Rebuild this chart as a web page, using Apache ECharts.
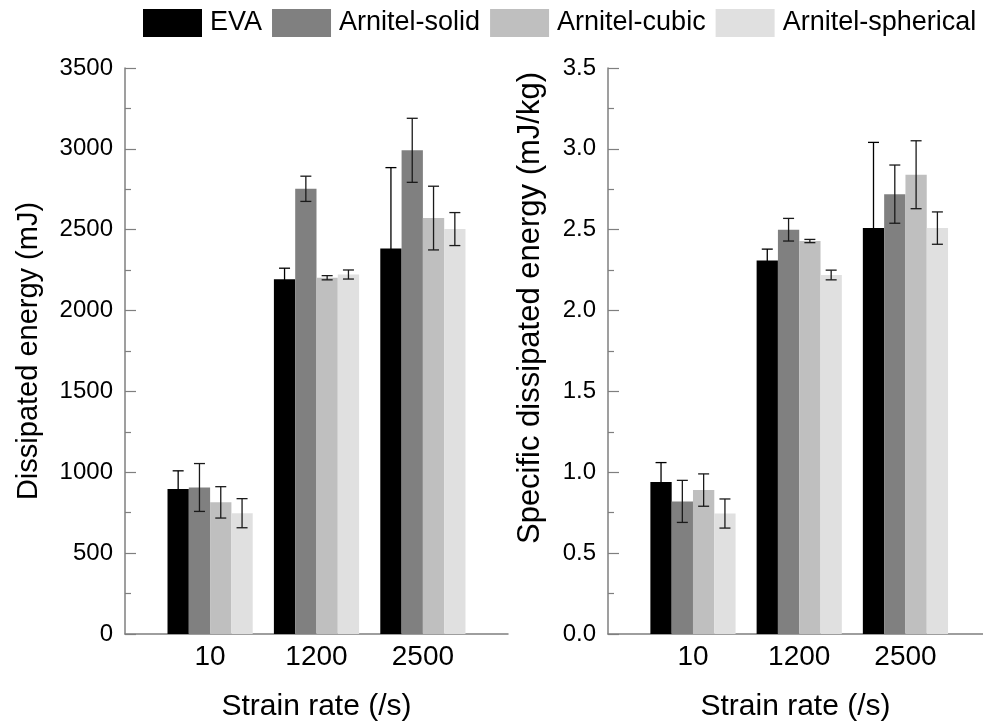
<!DOCTYPE html>
<html>
<head>
<meta charset="utf-8" />
<style>
  html, body { margin: 0; padding: 0; background: #fff; }
  #main { width: 983px; height: 727px; }
</style>
</head>
<body>
<div id="main"></div>
<script src="https://cdn.jsdelivr.net/npm/echarts@6/dist/echarts.min.js"></script>
<script>
// strain rate groups
var categories = ['10', '1200', '2500'];
var seriesNames = ['EVA', 'Arnitel-solid', 'Arnitel-cubic', 'Arnitel-spherical'];

// dissipated energy (mJ) and its error
var energyEVA = [897, 2194, 2384];
var energySolid = [906, 2753, 2991];
var energyCubic = [814, 2203, 2572];
var energySpherical = [747, 2223, 2504];
var energyEVAErr = [112, 68, 500];
var energySolidErr = [148, 78, 198];
var energyCubicErr = [97, 13, 197];
var energySphericalErr = [90, 28, 102];

// specific dissipated energy (mJ/kg) and its error
var specEVA = [0.94, 2.31, 2.51];
var specSolid = [0.82, 2.50, 2.72];
var specCubic = [0.89, 2.43, 2.84];
var specSpherical = [0.745, 2.22, 2.51];
var specEVAErr = [0.12, 0.07, 0.53];
var specSolidErr = [0.13, 0.07, 0.18];
var specCubicErr = [0.10, 0.01, 0.21];
var specSphericalErr = [0.09, 0.03, 0.10];

var colors = ['#000000', '#808080', '#bfbfbf', '#e0e0e0'];
var FONT = "'Liberation Sans', Arial, sans-serif";
var BAR_W = 21.3;

var chart = echarts.init(document.getElementById('main'));

function makeX(gridIndex, max) {
  return {
    type: 'value', gridIndex: gridIndex, min: 0.2, max: max,
    axisLine: { lineStyle: { color: '#7f7f7f', width: 1.5 } },
    axisTick: { show: false },
    splitLine: { show: false },
    axisLabel: {
      customValues: [1, 2, 3],
      formatter: function (v) { return categories[Math.round(v) - 1]; },
      fontSize: 28, color: '#000', fontFamily: FONT, margin: 9
    },
    name: 'Strain rate (/s)', nameLocation: 'middle', nameGap: 58,
    nameTextStyle: { fontSize: 30, color: '#000', fontFamily: FONT }
  };
}

function makeY(gridIndex, max, name, digits, gap, nameSize, namePad) {
  return {
    type: 'value', gridIndex: gridIndex, min: 0, max: max, interval: max / 7,
    axisLine: { show: true, lineStyle: { color: '#7f7f7f', width: 1.5 } },
    axisTick: { show: true, inside: true, length: 11, lineStyle: { color: '#7f7f7f', width: 1.2 } },
    minorTick: { show: true, splitNumber: 2, length: 6, lineStyle: { color: '#7f7f7f', width: 1.2 } },
    splitLine: { show: false },
    axisLabel: {
      formatter: function (v) { return v.toFixed(digits); },
      fontSize: 24, color: '#000', fontFamily: FONT, margin: 12
    },
    name: name, nameLocation: 'middle', nameGap: gap,
    nameTextStyle: { fontSize: nameSize, color: '#000', fontFamily: FONT, padding: namePad }
  };
}

function barSeries(name, idx, gridIdx, vals) {
  return {
    name: name, type: 'bar', xAxisIndex: gridIdx, yAxisIndex: gridIdx,
    barWidth: BAR_W, barGap: '0%',
    itemStyle: { color: colors[idx] },
    data: vals.map(function (v, i) { return [i + 1, v]; })
  };
}

function errSeries(gridIdx, groups) {
  var data = [];
  groups.forEach(function (g, s) {
    g[0].forEach(function (v, i) { data.push([i + 1, v, g[1][i], s]); });
  });
  return {
    type: 'custom', xAxisIndex: gridIdx, yAxisIndex: gridIdx, z: 5,
    data: data,
    renderItem: function (params, api) {
      var x = api.value(0), y = api.value(1), e = api.value(2), s = api.value(3);
      var px = api.coord([x, y])[0] + (s - 1.5) * BAR_W;
      var top = api.coord([x, y + e])[1];
      var bot = api.coord([x, y - e])[1];
      var st = { stroke: s === 0 ? '#000' : '#1a1a1a', lineWidth: 1.3 };
      return {
        type: 'group',
        children: [
          { type: 'line', shape: { x1: px, y1: top, x2: px, y2: bot }, style: st },
          { type: 'line', shape: { x1: px - 5.5, y1: top, x2: px + 5.5, y2: top }, style: st },
          { type: 'line', shape: { x1: px - 5.5, y1: bot, x2: px + 5.5, y2: bot }, style: st }
        ]
      };
    }
  };
}

var energyVals = [energyEVA, energySolid, energyCubic, energySpherical];
var energyErrs = [energyEVAErr, energySolidErr, energyCubicErr, energySphericalErr];
var specVals = [specEVA, specSolid, specCubic, specSpherical];
var specErrs = [specEVAErr, specSolidErr, specCubicErr, specSphericalErr];

var series = [];
seriesNames.forEach(function (n, i) { series.push(barSeries(n, i, 0, energyVals[i])); });
seriesNames.forEach(function (n, i) { series.push(barSeries(n, i, 1, specVals[i])); });
series.push(errSeries(0, energyVals.map(function (v, i) { return [v, energyErrs[i]]; })));
series.push(errSeries(1, specVals.map(function (v, i) { return [v, specErrs[i]]; })));

var option = {
  animation: false,
  textStyle: { fontFamily: FONT },
  legend: {
    data: seriesNames, top: 4, left: 138,
    icon: 'rect', itemWidth: 59, itemHeight: 28, itemGap: 10,
    textStyle: { fontSize: 27, color: '#000', fontFamily: FONT, padding: [0, 0, 0, 3] }
  },
  grid: [
    { left: 125, right: 475, top: 68, bottom: 86 },
    { left: 608, right: 0, top: 68, bottom: 86 }
  ],
  xAxis: [makeX(0, 3.8), makeX(1, 3.73)],
  yAxis: [
    makeY(0, 3500, 'Dissipated energy (mJ)', 0, 82, 29, 0),
    makeY(1, 3.5, 'Specific dissipated energy (mJ/kg)', 1, 62, 31, [0, 0, 0, 86])
  ],
  series: series
};
chart.setOption(option);
</script>
</body>
</html>
